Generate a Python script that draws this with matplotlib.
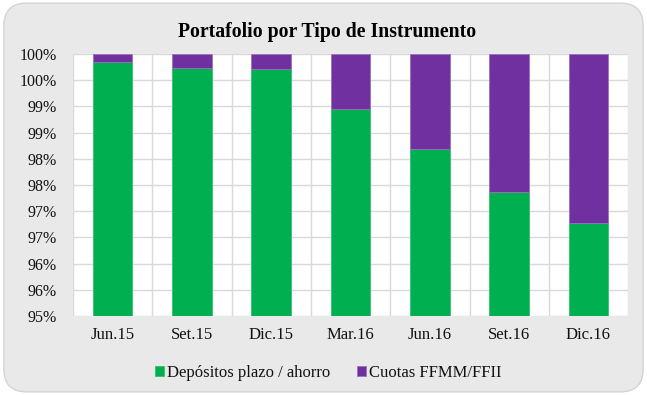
import matplotlib
matplotlib.use("Agg")
import matplotlib.pyplot as plt
from matplotlib.patches import FancyBboxPatch
from matplotlib.ticker import FixedLocator, FixedFormatter, MultipleLocator

periods = ["Jun.15", "Set.15", "Dic.15", "Mar.16", "Jun.16", "Set.16", "Dic.16"]
depositos = [99.85, 99.74, 99.71, 98.95, 98.19, 97.37, 96.78]
cuotas = [100 - d for d in depositos]
ytick_values = [95.0, 95.5, 96.0, 96.5, 97.0, 97.5, 98.0, 98.5, 99.0, 99.5, 100.0]
ytick_labels = ["95%", "96%", "96%", "97%", "97%", "98%", "98%", "99%", "99%", "100%", "100%"]

GREEN = "#00B050"
PURPLE = "#7030A0"
GRID = "#D9D9D9"
PANEL = "#E9E9E9"
SERIF = ["Liberation Serif", "DejaVu Serif"]

fig = plt.figure(figsize=(6.47, 3.95), dpi=100)
fig.patch.set_facecolor("white")

# rounded gray panel behind the chart
panel = FancyBboxPatch((0.006, 0.008), 0.988, 0.984,
                       boxstyle="round,pad=0,rounding_size=0.035",
                       transform=fig.transFigure, facecolor=PANEL,
                       edgecolor="#D4D4D4", linewidth=1.0, zorder=-5,
                       mutation_aspect=647 / 395)
fig.patches.append(panel)

ax = fig.add_axes([0.1128, 0.2, 0.858, 0.6633])
ax.set_zorder(2)
ax.set_facecolor("white")

x = list(range(len(periods)))
ax.bar(x, depositos, width=0.5, color=GREEN, edgecolor="#33C070",
       linewidth=0.6, zorder=3, label="Depósitos plazo / ahorro")
ax.bar(x, cuotas, width=0.5, bottom=depositos, color=PURPLE,
       edgecolor="#9A70C0", linewidth=0.6, zorder=3, label="Cuotas FFMM/FFII")

ax.set_ylim(95, 100)
ax.set_xlim(-0.5, len(periods) - 0.5)
ax.yaxis.set_major_locator(FixedLocator(ytick_values))
ax.yaxis.set_major_formatter(FixedFormatter(ytick_labels))
ax.set_xticks(x)
ax.set_xticklabels(periods)
ax.xaxis.set_minor_locator(MultipleLocator(1, offset=0.5))

ax.grid(axis="y", which="major", color=GRID, linewidth=1.0, zorder=0)
ax.grid(axis="x", which="minor", color=GRID, linewidth=1.0, zorder=0)
ax.set_axisbelow(True)

for s in ax.spines.values():
    s.set_visible(False)
ax.tick_params(axis="both", which="both", length=0)
ax.tick_params(axis="y", pad=11.5)
ax.tick_params(axis="x", pad=8)
for lab in ax.get_yticklabels():
    lab.set_family(SERIF)
    lab.set_fontsize(11.5)
    lab.set_color("#111111")
for lab in ax.get_xticklabels():
    lab.set_family(SERIF)
    lab.set_fontsize(12)
    lab.set_color("#111111")

fig.text(0.505, 1 - 37 / 395, "Portafolio por Tipo de Instrumento", ha="center",
         va="baseline", fontsize=14.2, fontweight="bold", family=SERIF,
         color="black")

leg = fig.legend(loc="center", bbox_to_anchor=(0.507, 0.056), ncol=2,
                 frameon=False, handlelength=0.55, handleheight=0.55,
                 handletextpad=0.18, columnspacing=1.6,
                 prop={"family": SERIF, "size": 12})
for t in leg.get_texts():
    t.set_color("#111111")

fig.savefig("out.png", dpi=100, facecolor=fig.get_facecolor())
